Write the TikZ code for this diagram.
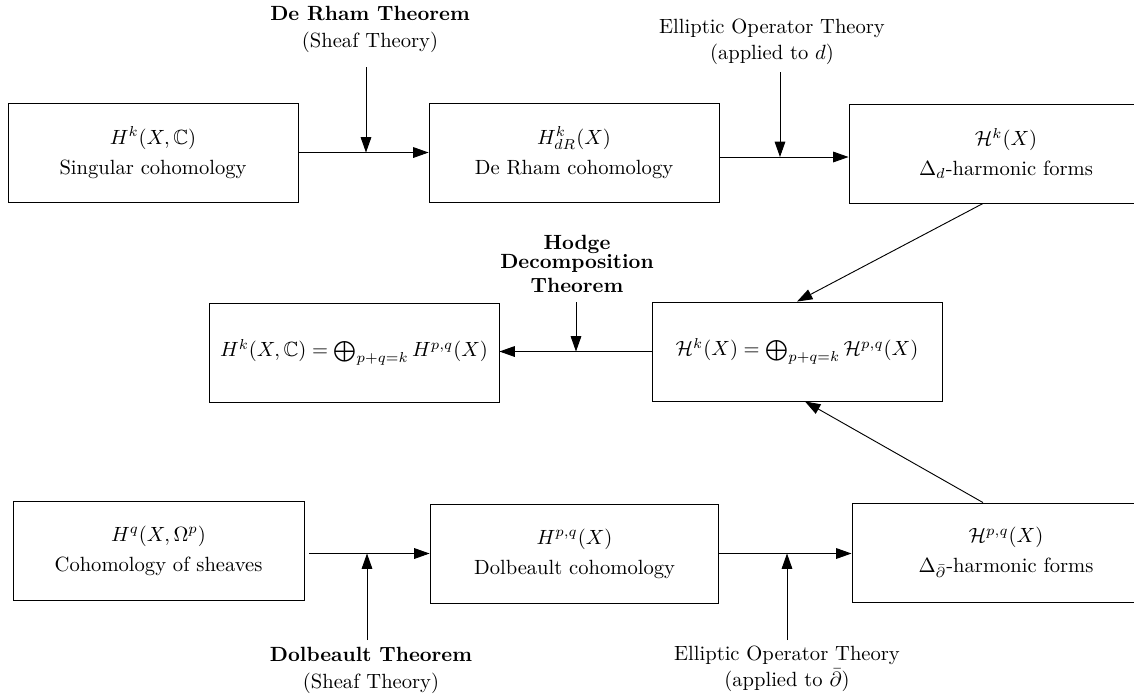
\documentclass[tikz,border=0pt]{standalone}
\usepackage{amsmath,amssymb}
\usetikzlibrary{arrows.meta,calc}
\begin{document}
\begin{tikzpicture}[x=0.486pt,y=-0.486pt,
  box/.style={draw, line width=0.45pt, minimum height=48.1pt, inner sep=0pt, align=center},
  lab/.style={inner sep=0pt, align=center},
  arr/.style={line width=0.45pt, -{Triangle[length=7.5pt,width=5.2pt]}}]
\useasboundingbox (0,0) rectangle (1134,698);

% boxes
\node[box, minimum width=140.9pt] (A) at (153,152.5) {$H^k(X,\mathbb{C})$\\[2.6pt]Singular cohomology};
\node[box, minimum width=140.9pt] (B) at (574,152.5) {$H^k_{dR}(X)$\\[2.6pt]De Rham cohomology};
\node[box, minimum width=152.6pt] (C) at (1006,153.5) {$\mathcal{H}^k(X)$\\[2.6pt]$\Delta_d$-harmonic forms};
\node[box, minimum width=140.9pt] (D) at (354,352.5) {$H^k(X,\mathbb{C}) = \bigoplus_{p+q=k} H^{p,q}(X)$};
\node[box, minimum width=140.9pt] (E) at (797,351.5) {$\mathcal{H}^k(X) = \bigoplus_{p+q=k} \mathcal{H}^{p,q}(X)$};
\node[box, minimum width=141.4pt] (G) at (158.5,550.5) {$H^q(X,\Omega^p)$\\[2.6pt]Cohomology of sheaves};
\node[box, minimum width=140.4pt] (H) at (574.5,553.5) {$H^{p,q}(X)$\\[2.6pt]Dolbeault cohomology};
\node[box, minimum width=149.7pt] (I) at (1006,552.5) {$\mathcal{H}^{p,q}(X)$\\[2.6pt]$\Delta_{\bar\partial}$-harmonic forms};

% labels
\node[lab] (L1) at (370,29.5) {\textbf{De Rham Theorem}\\[1pt](Sheaf Theory)};
\node[lab] (L2) at (772,42) {Elliptic Operator Theory\\[0.6pt](applied to $d$)};
\node[lab] (L3) at (577,264) {\textbf{Hodge}\\[-2.8pt]\textbf{Decomposition}\\[-0.5pt]\textbf{Theorem}};
\node[lab] (L4) at (371,670.5) {\textbf{Dolbeault Theorem}\\[1.5pt](Sheaf Theory)};
\node[lab] (L5) at (787,668.5) {Elliptic Operator Theory\\[0.6pt](applied to $\bar\partial$)};

% connectors
\draw[arr] (A.east) -- (B.west);
\coordinate (v1) at (366,67);
\draw[arr] (v1) -- (v1 |- A.east);

\coordinate (bc) at ($(B.east)+(0,4.5)$);
\draw[arr] (bc) -- (bc -| C.west);
\coordinate (v2) at (780,72);
\draw[arr] (v2) -- (v2 |- bc);

\draw[arr] ($(C.south)+(-23,0)$) -- (E.north);

\draw[arr] (E.west) -- (E.west -| D.east);
\coordinate (v3) at (576,302);
\draw[arr] (v3) -- (v3 |- E.west);

\draw[arr] ($(I.north)+(-23,0)$) -- ($(E.south)+(8,0)$);

\coordinate (gh) at ($(G.east |- H.west)+(5,0)$);
\draw[arr] (gh) -- (H.west);
\coordinate (v4) at (367,640);
\draw[arr] (v4) -- (v4 |- H.west);

\draw[arr] (H.east) -- (H.east -| I.west);
\coordinate (v5) at (787,640);
\draw[arr] (v5) -- (v5 |- H.east);
\end{tikzpicture}
\end{document}
